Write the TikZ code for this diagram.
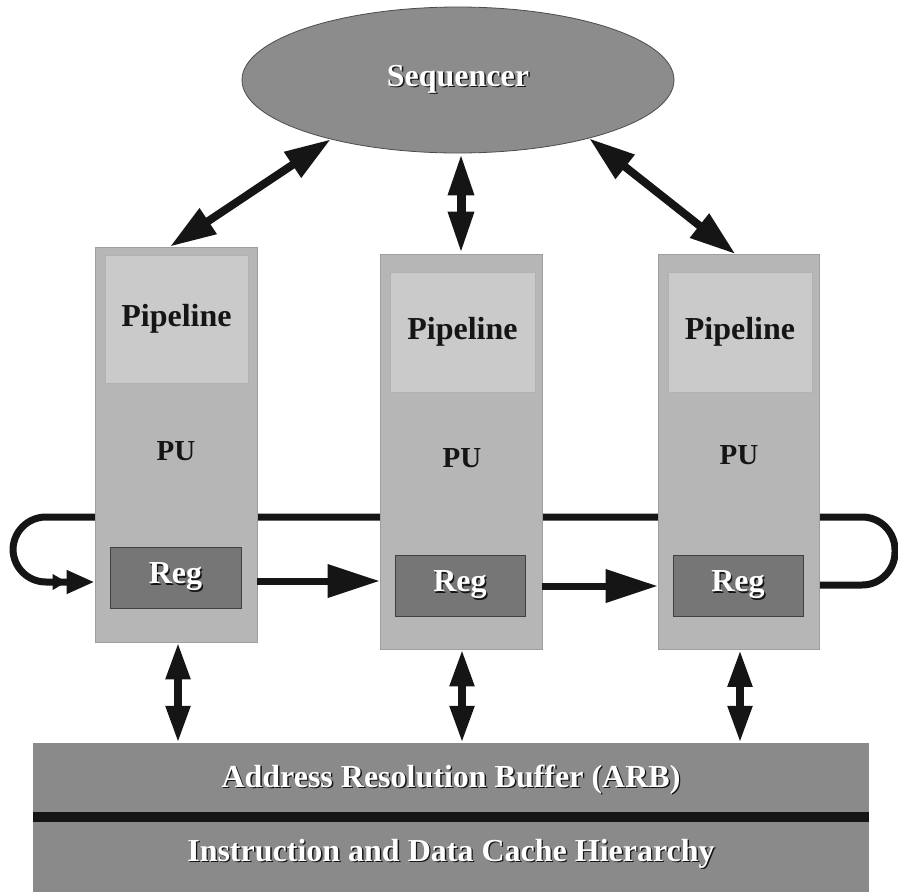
\documentclass[tikz,border=0pt]{standalone}
\usepackage{fontspec}
\setmainfont{Liberation Serif}
\usetikzlibrary{arrows.meta,shapes.geometric}
\pgfdeclarelayer{bg}
\pgfsetlayers{bg,main}

\definecolor{seqgray}{HTML}{8C8C8C}
\definecolor{pugray}{HTML}{B6B6B6}
\definecolor{pipegray}{HTML}{CACACA}
\definecolor{reggray}{HTML}{767676}
\definecolor{memgray}{HTML}{8A8A8A}
\definecolor{ink}{HTML}{151515}

% white lettering with a dark drop shadow
\newcommand{\shadowed}[1]{\leavevmode\rlap{\kern1.4pt\raisebox{-1.4pt}{\textcolor{ink}{#1}}}\textcolor{white}{#1}}

\begin{document}
\begin{tikzpicture}[x=1pt,y=-1pt,
  bigfont/.style={font=\fontsize{32}{36}\selectfont\bfseries},
  seqnode/.style={ellipse, fill=seqgray, draw=gray!60!black, line width=0.8pt,
    minimum width=432pt, minimum height=146pt, inner sep=0pt, bigfont},
  pubox/.style={rectangle, fill=pugray, draw=gray!75, line width=0.8pt,
    minimum width=162pt, minimum height=395pt, inner sep=0pt},
  pipebox/.style={rectangle, fill=pipegray, draw=gray!60, line width=0.5pt,
    inner sep=0pt, bigfont, text=ink},
  regbox/.style={rectangle, fill=reggray, draw=gray!50!black, line width=0.6pt,
    minimum width=130pt, minimum height=61pt, inner sep=0pt, bigfont},
  pulabel/.style={font=\fontsize{29}{33}\selectfont\bfseries, text=ink, inner sep=0pt},
  membox/.style={rectangle, fill=memgray, minimum width=836pt, inner sep=0pt, bigfont},
  seqarrow/.style={draw=ink, line width=8pt,
    {Triangle[length=46pt,width=29pt]}-{Triangle[length=46pt,width=29pt]}},
  vtarrow/.style={draw=ink, line width=9pt,
    {Triangle[length=42pt,width=24pt]}-{Triangle[length=42pt,width=24pt]}},
  memarrow/.style={draw=ink, line width=8pt,
    {Triangle[length=37pt,width=23pt]}-{Triangle[length=37pt,width=23pt]}},
  regarrow/.style={draw=ink, line width=7pt, -{Triangle[length=52pt,width=32pt]}},
  loopline/.style={draw=ink, line width=7pt, rounded corners=33pt,
    -{Triangle[length=14pt,width=15pt]Triangle[length=28pt,width=22pt]}},
]
\useasboundingbox (0,0) rectangle (898,892);
\begin{pgfonlayer}{bg}
  \fill[white] (0,0) rectangle (898,892);
\end{pgfonlayer}

% sequencer
\node[seqnode] (seq) at (458,80) {\shadowed{Sequencer}};

% processing units
\node[pubox] (pu1) at (176,444.5) {};
\node[pubox] (pu2) at (461,451.5) {};
\node[pubox, minimum width=161pt] (pu3) at (738.5,452) {};

\node[pipebox, minimum width=143pt, minimum height=128pt] (pipe1) at (176.5,319) {Pipeline};
\node[pipebox, minimum width=145pt, minimum height=120pt] (pipe2) at (462.5,332) {Pipeline};
\node[pipebox, minimum width=144pt, minimum height=120pt] (pipe3) at (740,332) {Pipeline};

\node[pulabel] (pul1) at (176,451) {PU};
\node[pulabel] (pul2) at (462,458) {PU};
\node[pulabel] (pul3) at (739,455) {PU};

\node[regbox, minimum width=131pt] (reg1) at (175.5,577.5) {\shadowed{Reg}};
\node[regbox] (reg2) at (460,585.5) {\shadowed{Reg}};
\node[regbox] (reg3) at (738,585.5) {\shadowed{Reg}};

% memory side
\node[membox, minimum height=74pt] (arb) at (451,780) {\shadowed{Address Resolution Buffer (ARB)}};
\node[membox, minimum height=75pt] (cache) at (451,854.5) {\shadowed{Instruction and Data Cache Hierarchy}};
\draw[ink, line width=10pt] (arb.south west) -- (arb.south east);

% register ring: runs behind the units and wraps round both ends
\coordinate (ringtop) at (0,517);
\coordinate (ringin) at (0,582);
\coordinate (ringout) at (0,585);
\coordinate (ringleft) at (13,0);
\coordinate (ringright) at (895,0);
\begin{pgfonlayer}{bg}
  \draw[loopline] (pu3.east |- ringout) -- (ringright |- ringout)
    -- (ringright |- ringtop) -- (ringleft |- ringtop)
    -- (ringleft |- ringin) -- (pu1.west |- ringin);
\end{pgfonlayer}

% register forwarding
\coordinate (fwdA) at (0,581);
\coordinate (fwdB) at (0,586);
\draw[regarrow] (pu1.east |- fwdA) -- (pu2.west |- fwdA);
\draw[regarrow] (pu2.east |- fwdB) -- (pu3.west |- fwdB);

% sequencer links
\draw[seqarrow] (seq.205) -- ([xshift=-6pt]pu1.north);
\draw[vtarrow] (seq.south -| pu2.north) -- (pu2.north);
\draw[seqarrow] (seq.336) -- ([xshift=-3pt]pu3.north);

% memory links
\draw[memarrow] ([xshift=2pt]pu1.south) -- ([xshift=2pt]pu1.south |- arb.north);
\draw[memarrow] ([xshift=1pt]pu2.south) -- ([xshift=1pt]pu2.south |- arb.north);
\draw[memarrow] ([xshift=1.5pt]pu3.south) -- ([xshift=1.5pt]pu3.south |- arb.north);
\end{tikzpicture}
\end{document}
